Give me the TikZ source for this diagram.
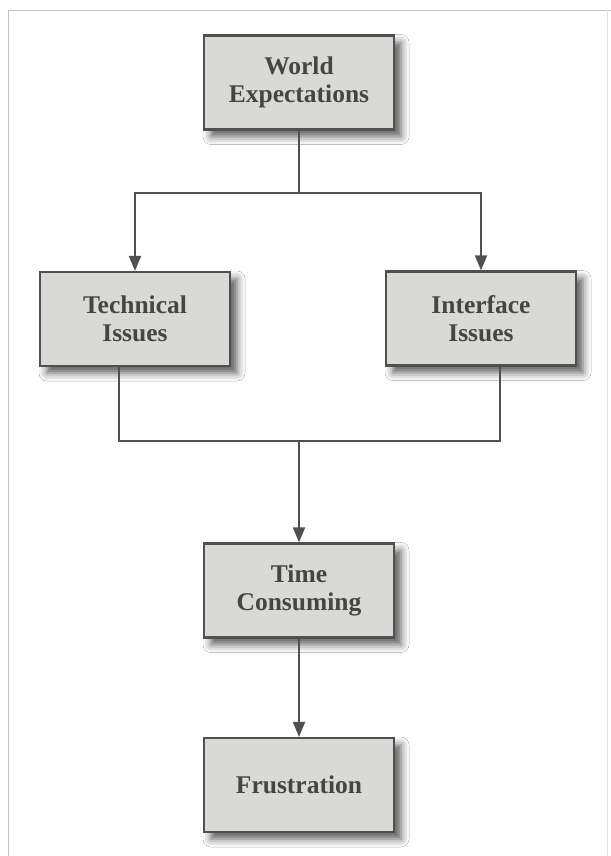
\documentclass[tikz,border=0pt]{standalone}
\usepackage{fontspec}
\setmainfont{Liberation Serif}
\usetikzlibrary{arrows.meta,shadows.blur,calc}
\definecolor{boxfill}{HTML}{D9D9D6}
\definecolor{boxline}{HTML}{505050}
\definecolor{txt}{HTML}{454545}
\definecolor{framecol}{HTML}{C4C4C4}
\tikzset{
  box/.style={draw=boxline, line width=2.2pt, fill=boxfill, minimum width=190pt, minimum height=94pt,
    inner sep=0pt, align=center, text=txt, font=\fontsize{25.5}{28}\selectfont\bfseries,
    blur shadow={shadow xshift=7pt, shadow yshift=-7pt, shadow blur radius=8pt, shadow opacity=65}},
  conn/.style={draw=boxline, line width=2pt},
  arr/.style={conn, -{Triangle[length=15pt,width=12pt]}}
}
\begin{document}
\begin{tikzpicture}[x=1pt,y=-1pt]
\useasboundingbox (0,0) rectangle (610,856);
\fill[white] (0,0) rectangle (610,856);
\draw[framecol, line width=1.6pt] (8.5,870) -- (8.5,10.5) -- (620,10.5);
\draw[framecol!50, line width=1pt] (607.5,10.5) -- (607.5,870);
\node[box] (W) at (299,82.5) {World\\Expectations};
\node[box] (T) at (135,319) {Technical\\Issues};
\node[box] (I) at (481,318.5) {Interface\\Issues};
\node[box] (C) at (299,590.5) {Time\\Consuming};
\node[box] (F) at (299,785) {Frustration};
\coordinate (split) at (299,193);
\coordinate (join) at (299,441);
\draw[arr] (W.south) -- (split) -| (T.north);
\draw[arr] (split) -| (I.north);
\draw[conn] ([xshift=-16pt]T.south) |- (join) -| ([xshift=19pt]I.south);
\draw[arr] (join) -- (C.north);
\draw[arr] (C.south) -- (F.north);
\end{tikzpicture}
\end{document}
